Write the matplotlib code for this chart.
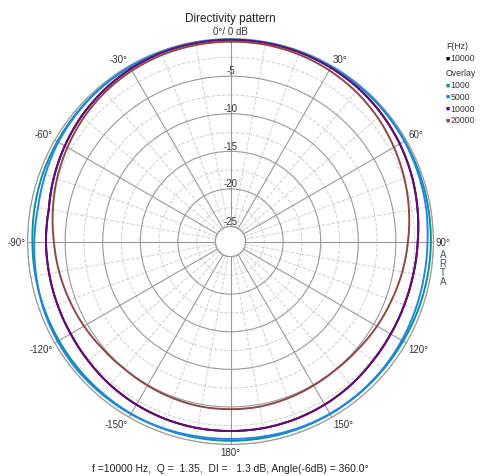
import numpy as np
import matplotlib.pyplot as plt

plt.rcParams['font.family'] = ['Liberation Sans', 'DejaVu Sans']

# directivity data, dB vs angle (0 = front, clockwise)
angles = list(range(0, 360, 10))
db_1000 = [-0.10, -0.10, -0.12, -0.15, -0.18, -0.20, -0.25, -0.28, -0.32, -0.35,
           -0.40, -0.45, -0.50, -0.50, -0.50, -0.50, -0.50, -0.50, -0.50, -0.52,
           -0.55, -0.55, -0.60, -0.62, -0.65, -0.65, -0.65, -0.65, -0.55, -0.45,
           -0.40, -0.32, -0.25, -0.20, -0.15, -0.12]
db_5000 = [0.00, 0.00, -0.05, -0.10, -0.15, -0.20, -0.30, -0.45, -0.60, -0.80,
           -0.85, -0.80, -0.70, -0.60, -0.55, -0.55, -0.60, -0.70, -0.75, -0.70,
           -0.60, -0.50, -0.45, -0.40, -0.45, -0.55, -0.75, -0.90, -1.00, -0.80,
           -0.55, -0.40, -0.25, -0.15, -0.08, -0.02]
db_10000 = [-0.15, -0.15, -0.20, -0.30, -0.45, -0.70, -1.00, -1.35, -1.75, -2.10,
            -2.30, -2.40, -2.40, -2.30, -2.10, -1.95, -1.85, -1.80, -1.80, -1.80,
            -1.85, -1.95, -2.10, -2.30, -2.45, -2.50, -2.50, -2.45, -2.45, -2.00,
            -1.55, -1.10, -0.75, -0.45, -0.25, -0.18]
db_20000 = [-0.40, -0.40, -0.50, -0.70, -1.00, -1.40, -1.90, -2.40, -2.90, -3.40,
            -3.80, -4.20, -4.50, -4.80, -4.95, -4.90, -4.80, -4.70, -4.70, -4.70,
            -4.80, -4.90, -4.95, -4.80, -4.50, -4.20, -3.85, -3.50, -3.00, -2.45,
            -1.95, -1.45, -1.05, -0.75, -0.55, -0.45]

overlay = [('1000', db_1000, '#0f8f8f'),
           ('5000', db_5000, '#1f86e8'),
           ('10000', db_10000, '#6a0a7a'),
           ('20000', db_20000, '#8a4848')]

ring_ticks = [-25, -20, -15, -10, -5, 0]
angle_ticks = list(range(0, 360, 30))
angle_labels = ['0°/ 0 dB', '30°', '60°', '90°', '120°', '150°',
                '180°', '-150°', '-120°', '-90°', '-60°', '-30°']

grid_col = '#999999'
minor_col = '#cfcfcf'
txt_col = '#333333'


def closed(vals):
    return np.append(vals, vals[0])


def draw_curve(ax, vals, col, z):
    th = np.radians(angles + [360])
    ln, = ax.plot(th, closed(vals), color=col, lw=1.4, zorder=z)
    ln.get_path()._interpolation_steps = 20  # arcs between points
    return ln


fig = plt.figure(figsize=(4.91, 4.77), dpi=100)
ax = fig.add_axes([0.056, 0.066, 0.827, 0.851], projection='polar')
ax.set_theta_zero_location('N')
ax.set_theta_direction(-1)
ax.set_rlim(-25, 0)
ax.set_rorigin(-27)

ax.set_rticks(ring_ticks)
ax.set_yticklabels([])
ax.set_thetagrids(angle_ticks, labels=[''] * len(angle_ticks))
ax.grid(color=grid_col, lw=0.8, ls='-')
ax.spines['polar'].set_color(grid_col)
ax.spines['inner'].set_color(grid_col)

# dashed minor grid
full = np.linspace(0, 2 * np.pi, 361)
for r in np.arange(-22.5, 0, 5):
    ax.plot(full, np.full_like(full, r), color=minor_col, ls='--', lw=0.7, zorder=1)
for a in range(0, 360, 10):
    if a % 30:
        ax.plot([np.radians(a)] * 2, [-25, 0], color=minor_col, ls='--', lw=0.7, zorder=1)

draw_curve(ax, db_10000, 'black', 3)
for name, vals, col in overlay:
    draw_curve(ax, vals, col, 4)

# ring labels along the 0 deg line
for r in ring_ticks[:-1]:
    ax.text(0, r + 0.1, str(r), ha='center', va='bottom', fontsize=7, color=txt_col)

# angle labels outside the circle
for a, lab in zip(angle_ticks, angle_labels):
    s, c = np.sin(np.radians(a)), np.cos(np.radians(a))
    ha = 'left' if s > 0.1 else ('right' if s < -0.1 else 'center')
    va = 'bottom' if c > 0.1 else ('top' if c < -0.1 else 'center')
    ax.text(np.radians(a), 0.3, lab, ha=ha, va=va, fontsize=7,
            color=txt_col, clip_on=False)

fig.text(0.470, 0.960, 'Directivity pattern', ha='center', va='center',
         fontsize=8.5, color='#222222')
fig.text(0.470, 0.017, 'f =10000 Hz,  Q =  1.35,  DI =   1.3 dB, Angle(-6dB) = 360.0°',
         ha='center', va='center', fontsize=7.5, color='#222222')

# ARTA mark
for i, ch in enumerate('ARTA'):
    fig.text(0.902, 0.465 - i * 0.019, ch, ha='center', va='center',
             fontsize=7, color='#445566')

# legend
lx = 0.908
fig.text(lx, 0.903, 'F(Hz)', ha='left', va='center', fontsize=6.3, color=txt_col)
fig.text(lx, 0.877, '■', ha='left', va='center', fontsize=5, color='black')
fig.text(lx + 0.010, 0.877, '10000', ha='left', va='center', fontsize=6.3, color=txt_col)
fig.text(lx, 0.845, 'Overlay', ha='left', va='center', fontsize=6.3, color=txt_col)
for i, (name, vals, col) in enumerate(overlay):
    y = 0.820 - i * 0.0245
    fig.text(lx, y, '■', ha='left', va='center', fontsize=5, color=col)
    fig.text(lx + 0.010, y, name, ha='left', va='center', fontsize=6.3, color=txt_col)

fig.savefig('out.png', dpi=100)
